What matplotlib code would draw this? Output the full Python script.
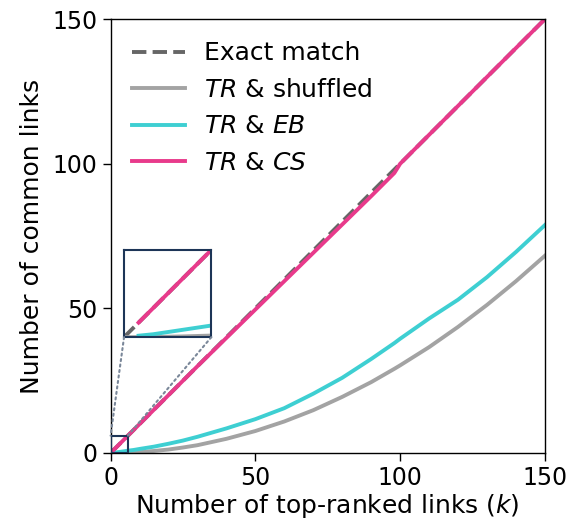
import matplotlib
matplotlib.use("Agg")
import matplotlib.pyplot as plt
from matplotlib.patches import Rectangle, ConnectionPatch

# ---- data ----
k_vals = [0, 1, 2, 3, 4, 5, 6, 8, 10, 15, 20, 25, 30, 40, 50, 60, 70, 80, 90, 98, 100,
          110, 120, 130, 140, 150]
shuffled = [0, 0.0, 0.01, 0.03, 0.05, 0.08, 0.11, 0.2, 0.3, 0.7, 1.2, 1.9, 2.7, 4.9, 7.6,
            10.9, 14.8, 19.4, 24.5, 29.1, 30.3, 36.6, 43.6, 51.2, 59.4, 68.2]
eb = [None, 0.1, 0.2, 0.35, 0.5, 0.65, 0.8, 1.05, 1.4, 2.2, 3.2, 4.3, 5.6, 8.5, 11.7,
      15.5, 20.5, 26.0, 32.5, 38.0, 39.5, 46.5, 53.0, 60.8, 69.5, 78.8]
cs = [None, 1, 2, 3, 4, 5, 6, 8, 10, 15, 20, 25, 30, 39.8, 49.6, 59.4, 69.2, 79.0, 88.8,
      96.8, 100, 110, 120, 130, 140, 150]
exact_k = [0, 150]
exact_vals = [0, 150]

labels = ["Exact match", "$\\it{TR}$ & shuffled", "$\\it{TR}$ & $\\it{EB}$", "$\\it{TR}$ & $\\it{CS}$"]
zoom_lim = 6

c_exact = "#666666"
c_shuf = "#a3a3a3"
c_eb = "#3ecfd2"
c_cs = "#e83a8b"
c_box = "#1d3557"

def series(ks, vs):
    pairs = [(a, b) for a, b in zip(ks, vs) if b is not None]
    return [p[0] for p in pairs], [p[1] for p in pairs]

plt.rcParams['font.family'] = ['DejaVu Sans']
fig = plt.figure(figsize=(5.7, 5.24), dpi=100)
ax = fig.add_axes([0.194, 0.1355, 0.762, 0.828])

def draw(a, lw):
    a.plot(exact_k, exact_vals, color=c_exact, lw=lw, ls="--", label=labels[0])
    x, y = series(k_vals, shuffled)
    a.plot(x, y, color=c_shuf, lw=lw, label=labels[1])
    x, y = series(k_vals, eb)
    a.plot(x, y, color=c_eb, lw=lw, label=labels[2])
    x, y = series(k_vals, cs)
    a.plot(x, y, color=c_cs, lw=lw, label=labels[3])

draw(ax, 2.8)
ax.set_xlim(0, 150)
ax.set_ylim(0, 150)
ax.set_xticks([0, 50, 100, 150])
ax.set_yticks([0, 50, 100, 150])
ax.tick_params(labelsize=17, length=6, width=1.0)
ax.set_xlabel("Number of top-ranked links ($\\it{k}$)", fontsize=18, labelpad=1)
ax.set_ylabel("Number of common links", fontsize=18, labelpad=6)
for s in ax.spines.values():
    s.set_linewidth(1.0)

leg = ax.legend(loc="upper left", frameon=False, fontsize=18, handlelength=2.1,
                borderaxespad=0.0, labelspacing=0.5, handletextpad=0.75,
                bbox_to_anchor=(0.027, 0.972))

# zoom box
ax.add_patch(Rectangle((0, 0), zoom_lim, zoom_lim, fill=False, ec=c_box, lw=1.5, zorder=5))

axins = ax.inset_axes([0.031, 0.267, 0.201, 0.201])
draw(axins, 2.8)
axins.set_xlim(0, zoom_lim)
axins.set_ylim(0, zoom_lim)
axins.set_xticks([])
axins.set_yticks([])
for s in axins.spines.values():
    s.set_edgecolor(c_box)
    s.set_linewidth(1.5)

for (xa, ya), (xb, yb) in [((0, 0), (0, zoom_lim)), ((zoom_lim, 0), (zoom_lim, zoom_lim))]:
    con = ConnectionPatch(xyA=(xa, ya), coordsA=axins.transData, xyB=(xb, yb), coordsB=ax.transData,
                          color="#7a8799", ls=":", lw=1.5, zorder=1)
    fig.add_artist(con)

fig.savefig("out.png", dpi=100)
